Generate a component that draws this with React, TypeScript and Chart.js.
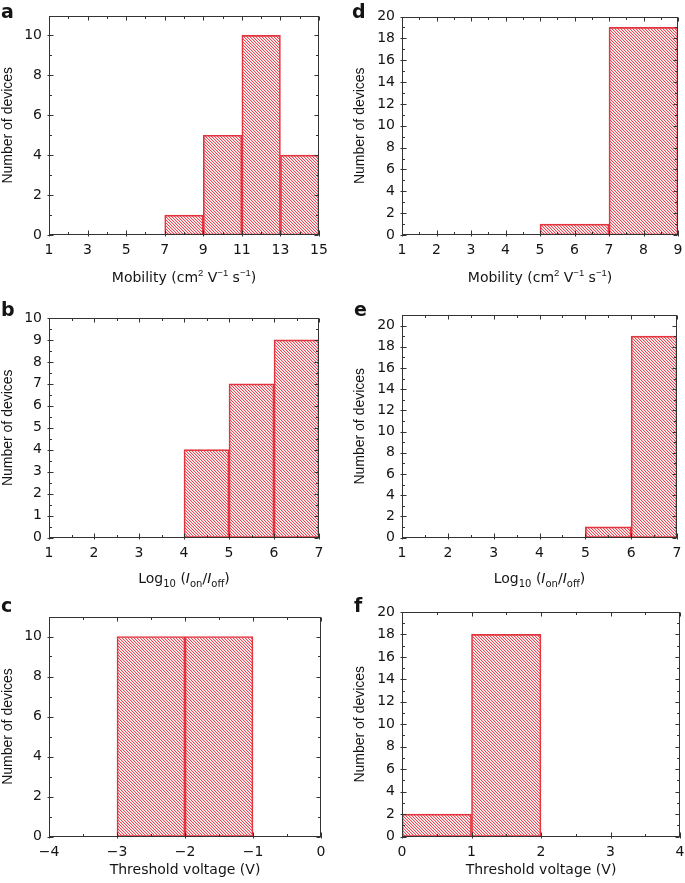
import React, { useEffect, useRef } from "react";
import { Chart, registerables } from "chart.js";
Chart.register(...registerables);

// ---------------- data ----------------
// a: mobility, bin width 2
const aBinStarts = [7, 9, 11, 13];
const aCounts = [1, 5, 10, 4];
const aBinWidth = 2;
const aXRange = [1, 15];
const aXStep = 2;
const aYMax = 11;
const aYStep = 2;

// b: log10(Ion/Ioff)
const bBinStarts = [4, 5, 6];
const bCounts = [4, 7, 9];
const bBinWidth = 1;
const bXRange = [1, 7];
const bXStep = 1;
const bYMax = 10;
const bYStep = 1;

// c: threshold voltage
const cBinStarts = [-3, -2];
const cCounts = [10, 10];
const cBinWidth = 1;
const cXRange = [-4, 0];
const cXStep = 1;
const cYMax = 11;
const cYStep = 2;

// d: mobility
const dBinStarts = [5, 7];
const dCounts = [1, 19];
const dBinWidth = 2;
const dXRange = [1, 9];
const dXStep = 1;
const dYMax = 20;
const dYStep = 2;

// e: log10(Ion/Ioff)
const eBinStarts = [5, 6];
const eCounts = [1, 19];
const eBinWidth = 1;
const eXRange = [1, 7];
const eXStep = 1;
const eYMax = 21;
const eYStep = 2;

// f: threshold voltage
const fBinStarts = [0, 1];
const fCounts = [2, 18];
const fBinWidth = 1;
const fXRange = [0, 4];
const fXStep = 1;
const fYMax = 20;
const fYStep = 2;

const yTitle = "Number of devices";
type Seg = { t: string; i?: boolean; pos?: "sup" | "sub" };
const mobilityTitle: Seg[] = [
  { t: "Mobility (cm" }, { t: "2", pos: "sup" }, { t: " V" }, { t: "\u22121", pos: "sup" },
  { t: " s" }, { t: "\u22121", pos: "sup" }, { t: ")" },
];
const logTitle: Seg[] = [
  { t: "Log" }, { t: "10", pos: "sub" }, { t: " (" }, { t: "I", i: true }, { t: "on", pos: "sub" },
  { t: "/" }, { t: "I", i: true }, { t: "off", pos: "sub" }, { t: ")" },
];
const vthTitle: Seg[] = [{ t: "Threshold voltage (V)" }];

// ---------------- styles / layout ----------------
const RED = "rgb(226, 52, 62)";
const AXIS = "#333333";
const TEXT = "#141414";
const TICK_FONT = '"DejaVu Sans"';
const W = 685, H = 883;

const COLS = [{ cx: 0, cw: 340 }, { cx: 340, cw: 345 }];
const ROWS = [{ cy: 0, ch: 292 }, { cy: 292, ch: 302 }, { cy: 594, ch: 289 }];

type PanelDef = {
  letter: string; col: number; row: number;
  L: number; R: number; T: number; B: number;
  starts: number[]; counts: number[]; bw: number;
  xr: number[]; xs: number; xminor: number; ymax: number; ys: number; yminor: number;
  title: Seg[]; titleY: number; letterX: number; letterY: number; yTitleX: number;
};

const PANELS: PanelDef[] = [
  { letter: "a", col: 0, row: 0, L: 49, R: 319, T: 15.5, B: 235, starts: aBinStarts, counts: aCounts, bw: aBinWidth,
    xr: aXRange, xs: aXStep, xminor: 1, ymax: aYMax, ys: aYStep, yminor: 1, title: mobilityTitle, titleY: 282,
    letterX: 1, letterY: 18, yTitleX: 8.5 },
  { letter: "d", col: 1, row: 0, L: 402, R: 678, T: 16.5, B: 235, starts: dBinStarts, counts: dCounts, bw: dBinWidth,
    xr: dXRange, xs: dXStep, xminor: 0.5, ymax: dYMax, ys: dYStep, yminor: 1, title: mobilityTitle, titleY: 282,
    letterX: 352, letterY: 18, yTitleX: 360 },
  { letter: "b", col: 0, row: 1, L: 49, R: 319, T: 318, B: 537.5, starts: bBinStarts, counts: bCounts, bw: bBinWidth,
    xr: bXRange, xs: bXStep, xminor: 0.5, ymax: bYMax, ys: bYStep, yminor: 0.5, title: logTitle, titleY: 583,
    letterX: 1, letterY: 316, yTitleX: 8.5 },
  { letter: "e", col: 1, row: 1, L: 402, R: 677, T: 315, B: 537.5, starts: eBinStarts, counts: eCounts, bw: eBinWidth,
    xr: eXRange, xs: eXStep, xminor: 0.5, ymax: eYMax, ys: eYStep, yminor: 1, title: logTitle, titleY: 583,
    letterX: 354, letterY: 316, yTitleX: 360 },
  { letter: "c", col: 0, row: 2, L: 49, R: 321, T: 616.5, B: 836.5, starts: cBinStarts, counts: cCounts, bw: cBinWidth,
    xr: cXRange, xs: cXStep, xminor: 0.5, ymax: cYMax, ys: cYStep, yminor: 1, title: vthTitle, titleY: 873.5,
    letterX: 1, letterY: 612, yTitleX: 8.5 },
  { letter: "f", col: 1, row: 2, L: 402, R: 680, T: 612, B: 836.5, starts: fBinStarts, counts: fCounts, bw: fBinWidth,
    xr: fXRange, xs: fXStep, xminor: 0.5, ymax: fYMax, ys: fYStep, yminor: 1, title: vthTitle, titleY: 873.5,
    letterX: 354, letterY: 612, yTitleX: 360 },
];

const X_AXIS_H = 30;

function makeHatch(): CanvasPattern | string {
  const tile = document.createElement("canvas");
  tile.width = 3; tile.height = 3;
  const tctx = tile.getContext("2d");
  if (!tctx) return RED;
  const img = tctx.createImageData(3, 3);
  for (let y = 0; y < 3; y++) {
    for (let x = 0; x < 3; x++) {
      const k = (((x - y) % 3) + 3) % 3;
      const idx = (y * 3 + x) * 4;
      img.data[idx] = 230; img.data[idx + 1] = 60; img.data[idx + 2] = 70;
      img.data[idx + 3] = k === 0 ? 235 : k === 1 ? 70 : 0;
    }
  }
  tctx.putImageData(img, 0, 0);
  const p = tctx.createPattern(tile, "repeat");
  return p || RED;
}

function drawRich(ctx: CanvasRenderingContext2D, segs: Seg[], cx: number, baseY: number) {
  const fontFor = (s: Seg) =>
    s.pos === "sup"
      ? '9.5px "Liberation Sans"'
      : s.pos === "sub"
      ? '10px "DejaVu Sans"'
      : `${s.i ? "italic " : ""}14px "DejaVu Sans"`;
  let total = 0;
  const widths = segs.map((s) => { ctx.font = fontFor(s); const w = ctx.measureText(s.t).width; total += w; return w; });
  let x = cx - total / 2;
  ctx.textAlign = "left";
  ctx.textBaseline = "alphabetic";
  segs.forEach((s, i) => {
    ctx.font = fontFor(s);
    const dy = s.pos === "sup" ? -6 : s.pos === "sub" ? 3.5 : 0;
    ctx.fillText(s.t, x, baseY + dy);
    x += widths[i];
  });
}

const panelPlugin = {
  id: "panel",
  afterDraw(chart: any, _args: any, opts: any) {
    const p: PanelDef = opts.def;
    const { cx } = COLS[p.col];
    const { cy } = ROWS[p.row];
    const ctx: CanvasRenderingContext2D = chart.ctx;
    const ca = chart.chartArea;
    const xs = chart.scales.x, ys = chart.scales.y;
    const r = (v: number) => Math.round(v) + 0.5;
    ctx.save();
    ctx.strokeStyle = AXIS;
    ctx.lineWidth = 1;
    const L = r(ca.left), R = r(ca.right - 1), T = r(ca.top), B = r(ca.bottom - 1);
    ctx.strokeRect(L, T, R - L, B - T);

    const majorX = xs.ticks.map((t: any) => t.value);
    const majorY = ys.ticks.map((t: any) => t.value);
    const isMajor = (arr: number[], v: number) => arr.some((m) => Math.abs(m - v) < 1e-6);
    ctx.beginPath();
    for (let v = p.xr[0]; v <= p.xr[1] + 1e-6; v += p.xminor) {
      const maj = isMajor(majorX, v);
      const len = maj ? 4 : 2.5;
      const x = r(xs.getPixelForValue(v));
      ctx.moveTo(x, B + (maj ? 2 : 0)); ctx.lineTo(x, B - len);
      ctx.moveTo(x, T); ctx.lineTo(x, T + len);
    }
    for (let v = 0; v <= p.ymax + 1e-6; v += p.yminor) {
      const maj = isMajor(majorY, v);
      const len = maj ? 4 : 2.5;
      const y = r(ys.getPixelForValue(v));
      ctx.moveTo(L - (maj ? 2 : 0), y); ctx.lineTo(L + len, y);
      ctx.moveTo(R, y); ctx.lineTo(R - len, y);
    }
    ctx.stroke();

    ctx.fillStyle = TEXT;
    // panel letter
    ctx.font = 'bold 19px "DejaVu Sans"';
    ctx.textAlign = "left";
    ctx.textBaseline = "alphabetic";
    ctx.fillText(p.letter, p.letterX - cx, p.letterY - cy);
    // y title
    ctx.save();
    ctx.translate(p.yTitleX - cx, (ca.top + ca.bottom) / 2);
    ctx.rotate(-Math.PI / 2);
    ctx.font = '14px "Liberation Sans"';
    ctx.textAlign = "center";
    ctx.textBaseline = "middle";
    ctx.fillText(yTitle, 0, 0);
    ctx.restore();
    // x title
    drawRich(ctx, p.title, (ca.left + ca.right) / 2, p.titleY - cy);
    ctx.restore();
  },
};

function Panel({ def }: { def: PanelDef }) {
  const ref = useRef<HTMLCanvasElement | null>(null);
  const { cx, cw } = COLS[def.col];
  const { cy, ch } = ROWS[def.row];
  useEffect(() => {
    if (!ref.current) return;
    const hatch = makeHatch();
    const fmt = (v: any) => String(v).replace("-", "\u2212");
    const chart = new Chart(ref.current, {
      type: "bar",
      data: {
        datasets: [
          {
            data: def.starts.map((s, i) => ({ x: s + def.bw / 2, y: def.counts[i] })),
            xAxisID: "xb",
            yAxisID: "y",
            backgroundColor: hatch as any,
            borderColor: RED,
            borderWidth: 1,
            borderSkipped: false,
            barPercentage: 1,
            categoryPercentage: 1,
          } as any,
        ],
      },
      options: {
        animation: false,
        responsive: false,
        maintainAspectRatio: false,
        events: [],
        layout: {
          padding: {
            left: 0,
            top: def.T - cy,
            right: cx + cw - def.R,
            bottom: cy + ch - def.B - X_AXIS_H,
          },
        },
        plugins: {
          legend: { display: false },
          tooltip: { enabled: false },
          panel: { def },
        } as any,
        scales: {
          x: {
            type: "linear",
            position: "bottom",
            offset: false,
            min: def.xr[0],
            max: def.xr[1],
            grid: { display: false, drawTicks: false, offset: false },
            border: { display: false },
            ticks: {
              stepSize: def.xs,
              autoSkip: false,
              maxRotation: 0,
              padding: 7,
              color: TEXT,
              font: { family: TICK_FONT, size: 14 },
              callback: fmt,
            },
            afterFit: (s: any) => { s.height = X_AXIS_H; s.paddingLeft = 0; s.paddingRight = 0; },
          },
          xb: {
            type: "linear",
            display: false,
            offset: false,
            min: def.xr[0],
            max: def.xr[1],
            grid: { offset: false },
            ticks: { stepSize: def.bw },
          },
          y: {
            type: "linear",
            min: 0,
            max: def.ymax,
            grid: { display: false, drawTicks: false },
            border: { display: false },
            ticks: {
              stepSize: def.ys,
              includeBounds: false,
              autoSkip: false,
              padding: 7,
              color: TEXT,
              font: { family: TICK_FONT, size: 14 },
              callback: fmt,
            },
            afterFit: (s: any) => { s.width = def.L - cx; s.paddingTop = 0; s.paddingBottom = 0; },
          },
        } as any,
      },
      plugins: [panelPlugin as any],
    });
    return () => chart.destroy();
  }, [def]);
  return (
    <canvas
      ref={ref}
      width={cw}
      height={ch}
      style={{ position: "absolute", left: cx, top: cy, width: cw, height: ch, display: "block" }}
    />
  );
}

export default function App() {
  return (
    <div style={{ position: "absolute", left: 0, top: 0, width: W, height: H, background: "#fff", overflow: "hidden" }}>
      {PANELS.map((p) => (
        <Panel key={p.letter} def={p} />
      ))}
    </div>
  );
}
